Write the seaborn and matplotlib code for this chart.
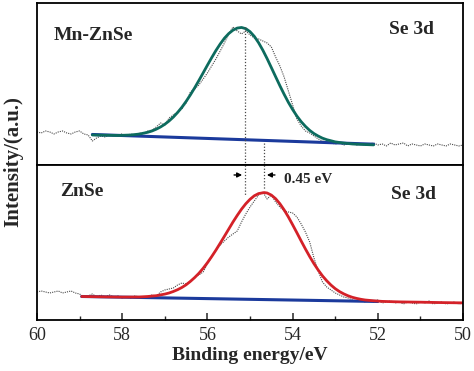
import numpy as np
import pandas as pd
import matplotlib
matplotlib.use("Agg")
import matplotlib.pyplot as plt
import seaborn as sns

# ---- data (intensity in arbitrary units) ----
# raw spectra sampled every 0.1 eV from 60.0 down to 50.0 eV
raw_energy = np.round(np.arange(60.0, 49.95, -0.1), 1)

mn_raw = [33, 32, 34, 33, 31, 33, 34, 32, 31, 33, 34, 31, 30, 24, 27, 29, 28, 30, 29, 30,
          31, 29, 31, 30, 32, 31, 34, 35, 38, 42, 40, 47, 50, 53, 56, 62, 73, 76, 80, 86,
          92, 99, 106, 114, 122, 131, 138, 134, 131, 134, 130, 127, 126, 124, 122, 118, 108, 99, 88, 74,
          60, 46, 39, 34, 32, 29, 26, 24, 23, 22, 21, 22, 20, 21, 22, 20, 21, 20, 21, 22,
          20, 21, 19, 22, 20, 21, 22, 19, 21, 20, 19, 21, 20, 19, 21, 20, 19, 21, 20, 19, 20]

zn_raw = [28, 29, 28, 27, 28, 29, 27, 28, 29, 27, 26, 23, 24, 26, 23, 25, 23, 25, 23, 24,
          22, 23, 22, 24, 23, 22, 23, 25, 24, 28, 30, 31, 32, 35, 37, 36, 38, 43, 45, 48,
          56, 63, 70, 75, 79, 83, 86, 89, 98, 106, 113, 119, 125, 128, 121, 125, 118, 113, 109, 108,
          107, 103, 96, 88, 78, 62, 49, 38, 33, 30, 27, 25, 23, 22, 20, 19, 20, 18, 19, 18,
          20, 17, 18, 19, 17, 18, 16, 18, 17, 16, 18, 17, 19, 16, 17, 18, 16, 17, 18, 16, 17]

# fitted peaks
mn_fit_e = [58.7, 58.4, 58.1, 57.8, 57.6, 57.4, 57.3, 57.2, 57.1, 57.0, 56.9, 56.8, 56.7,
            56.6, 56.5, 56.4, 56.3, 56.2, 56.1, 56.0, 55.9, 55.8, 55.7, 55.6, 55.5, 55.4,
            55.3, 55.2, 55.1, 55.0, 54.9, 54.8, 54.7, 54.6, 54.5, 54.4, 54.3, 54.2, 54.1,
            54.0, 53.9, 53.8, 53.7, 53.6, 53.5, 53.4, 53.3, 53.2, 53.0, 52.8, 52.6, 52.4, 52.1]
mn_fit = [30.0, 29.7, 29.5, 30.0, 30.9, 32.7, 34.0, 35.8, 38.0, 40.7, 44.0, 47.9, 52.5,
          57.7, 63.6, 70.1, 77.1, 84.5, 92.1, 99.8, 107.3, 114.5, 121.0, 126.8, 131.4, 134.8,
          136.9, 137.5, 136.3, 133.3, 128.6, 122.3, 114.8, 106.4, 97.4, 88.3, 79.3, 70.7, 62.6,
          55.4, 48.9, 43.3, 38.6, 34.6, 31.4, 28.9, 26.8, 25.3, 23.1, 21.9, 21.0, 20.6, 20.1]
mn_bg_e = [58.7, 52.1]
mn_bg = [30.5, 20.8]

zn_fit_e = [58.95, 58.5, 58.0, 57.6, 57.4, 57.2, 57.0, 56.9, 56.8, 56.7, 56.6, 56.5, 56.4,
            56.3, 56.2, 56.1, 56.0, 55.9, 55.8, 55.7, 55.6, 55.5, 55.4, 55.3, 55.2, 55.1,
            55.0, 54.9, 54.8, 54.67, 54.6, 54.5, 54.4, 54.3, 54.2, 54.1, 54.0, 53.9, 53.8,
            53.7, 53.6, 53.5, 53.4, 53.3, 53.2, 53.1, 53.0, 52.9, 52.8, 52.7, 52.6, 52.5,
            52.4, 52.3, 52.1, 51.9, 51.5, 51.0, 50.5, 50.0]
zn_fit = [23.5, 23.2, 22.9, 23.0, 23.5, 24.3, 25.9, 27.0, 28.5, 30.3, 32.5, 35.2, 38.6,
          42.4, 46.7, 51.7, 57.3, 63.4, 69.9, 76.8, 83.8, 90.9, 98.0, 104.6, 110.8, 116.2,
          120.7, 124.2, 126.4, 127.4, 127.0, 124.9, 121.3, 116.3, 110.1, 103.0, 95.2, 87.2, 79.0,
          71.0, 63.4, 56.3, 49.9, 44.1, 39.2, 34.9, 31.3, 28.4, 26.1, 24.2, 22.7, 21.6,
          20.7, 20.0, 19.2, 18.6, 18.1, 17.8, 17.4, 17.1]
zn_bg_e = [58.95, 52.0]
zn_bg = [23.5, 18.5]

mn_peak = 55.12
zn_peak = 54.67

sns.set_theme(style="ticks")
plt.rcParams["font.family"] = ["Liberation Serif", "DejaVu Serif"]

fig = plt.figure(figsize=(4.74, 3.71), dpi=100)
gs = fig.add_gridspec(2, 1, height_ratios=[162, 155], hspace=0,
                      left=0.078, right=0.977, bottom=0.1375, top=0.992)
ax1 = fig.add_subplot(gs[0])
ax2 = fig.add_subplot(gs[1], sharex=ax1)

green = "#0d6b5e"
red = "#d42128"
blue = "#1b3a9c"
dots = "#4a4a4a"

# top panel: Mn-ZnSe
sns.lineplot(x=raw_energy, y=mn_raw, ax=ax1, color=dots, lw=0.8, linestyle=(0, (1, 1)), sort=False)
sns.lineplot(x=mn_bg_e, y=mn_bg, ax=ax1, color=blue, lw=2.2, sort=False)
sns.lineplot(x=mn_fit_e, y=mn_fit, ax=ax1, color=green, lw=2.0, sort=False)
ax1.plot([mn_peak, mn_peak], [137.5, 0], color=dots, lw=0.9, linestyle=(0, (1, 1.5)))
ax1.plot([zn_peak, zn_peak], [22, 0], color=dots, lw=0.9, linestyle=(0, (1, 1.5)))
ax1.text(59.62, 129, "Mn-ZnSe", fontsize=14, fontweight="bold", va="center", ha="left")
ax1.text(51.74, 135, "Se 3d", fontsize=14, fontweight="bold", va="center", ha="left")
ax1.set_ylim(0, 162)

# bottom panel: ZnSe
sns.lineplot(x=raw_energy, y=zn_raw, ax=ax2, color=dots, lw=0.8, linestyle=(0, (1, 1)), sort=False)
sns.lineplot(x=zn_bg_e, y=zn_bg, ax=ax2, color=blue, lw=2.2, sort=False)
sns.lineplot(x=zn_fit_e, y=zn_fit, ax=ax2, color=red, lw=2.0, sort=False)
ax2.plot([mn_peak, mn_peak], [155, 125], color=dots, lw=0.9, linestyle=(0, (1, 1.5)))
ax2.plot([zn_peak, zn_peak], [155, 130], color=dots, lw=0.9, linestyle=(0, (1, 1.5)))
ax2.annotate("", xy=(mn_peak, 145), xytext=(mn_peak + 0.32, 145),
             arrowprops=dict(arrowstyle="-|>", color="black", lw=1.0, mutation_scale=7))
ax2.annotate("", xy=(zn_peak, 145), xytext=(zn_peak - 0.32, 145),
             arrowprops=dict(arrowstyle="-|>", color="black", lw=1.0, mutation_scale=7))
ax2.text(54.2, 140, "0.45 eV", fontsize=11, fontweight="bold", va="center", ha="left")
ax2.text(59.46, 128, "ZnSe", fontsize=14, fontweight="bold", va="center", ha="left")
ax2.text(51.69, 125, "Se 3d", fontsize=14, fontweight="bold", va="center", ha="left")
ax2.set_ylim(0, 155)

ax2.set_xlim(60, 50)
ax2.set_xticks([60, 58, 56, 54, 52, 50])
ax2.set_xticks([59, 57, 55, 53, 51], minor=True)

for ax in (ax1, ax2):
    ax.set_yticks([])
    ax.set_ylabel("")
    for s in ax.spines.values():
        s.set_visible(True)
        s.set_linewidth(1.3)
        s.set_color("black")

ax1.tick_params(axis="x", which="both", bottom=False, top=False, labelbottom=False)
ax2.tick_params(axis="x", which="major", direction="in", length=5, width=1.1,
                labelsize=13, pad=5, top=False)
ax2.tick_params(axis="x", which="minor", direction="in", length=3, width=1.0, top=False)

ax2.set_xlabel("Binding energy/eV", fontsize=14, fontweight="bold", labelpad=2)
fig.text(0.027, 0.565, "Intensity/(a.u.)", rotation=90, fontsize=15, fontweight="bold",
         va="center", ha="center")

fig.savefig("out.png", dpi=100)
